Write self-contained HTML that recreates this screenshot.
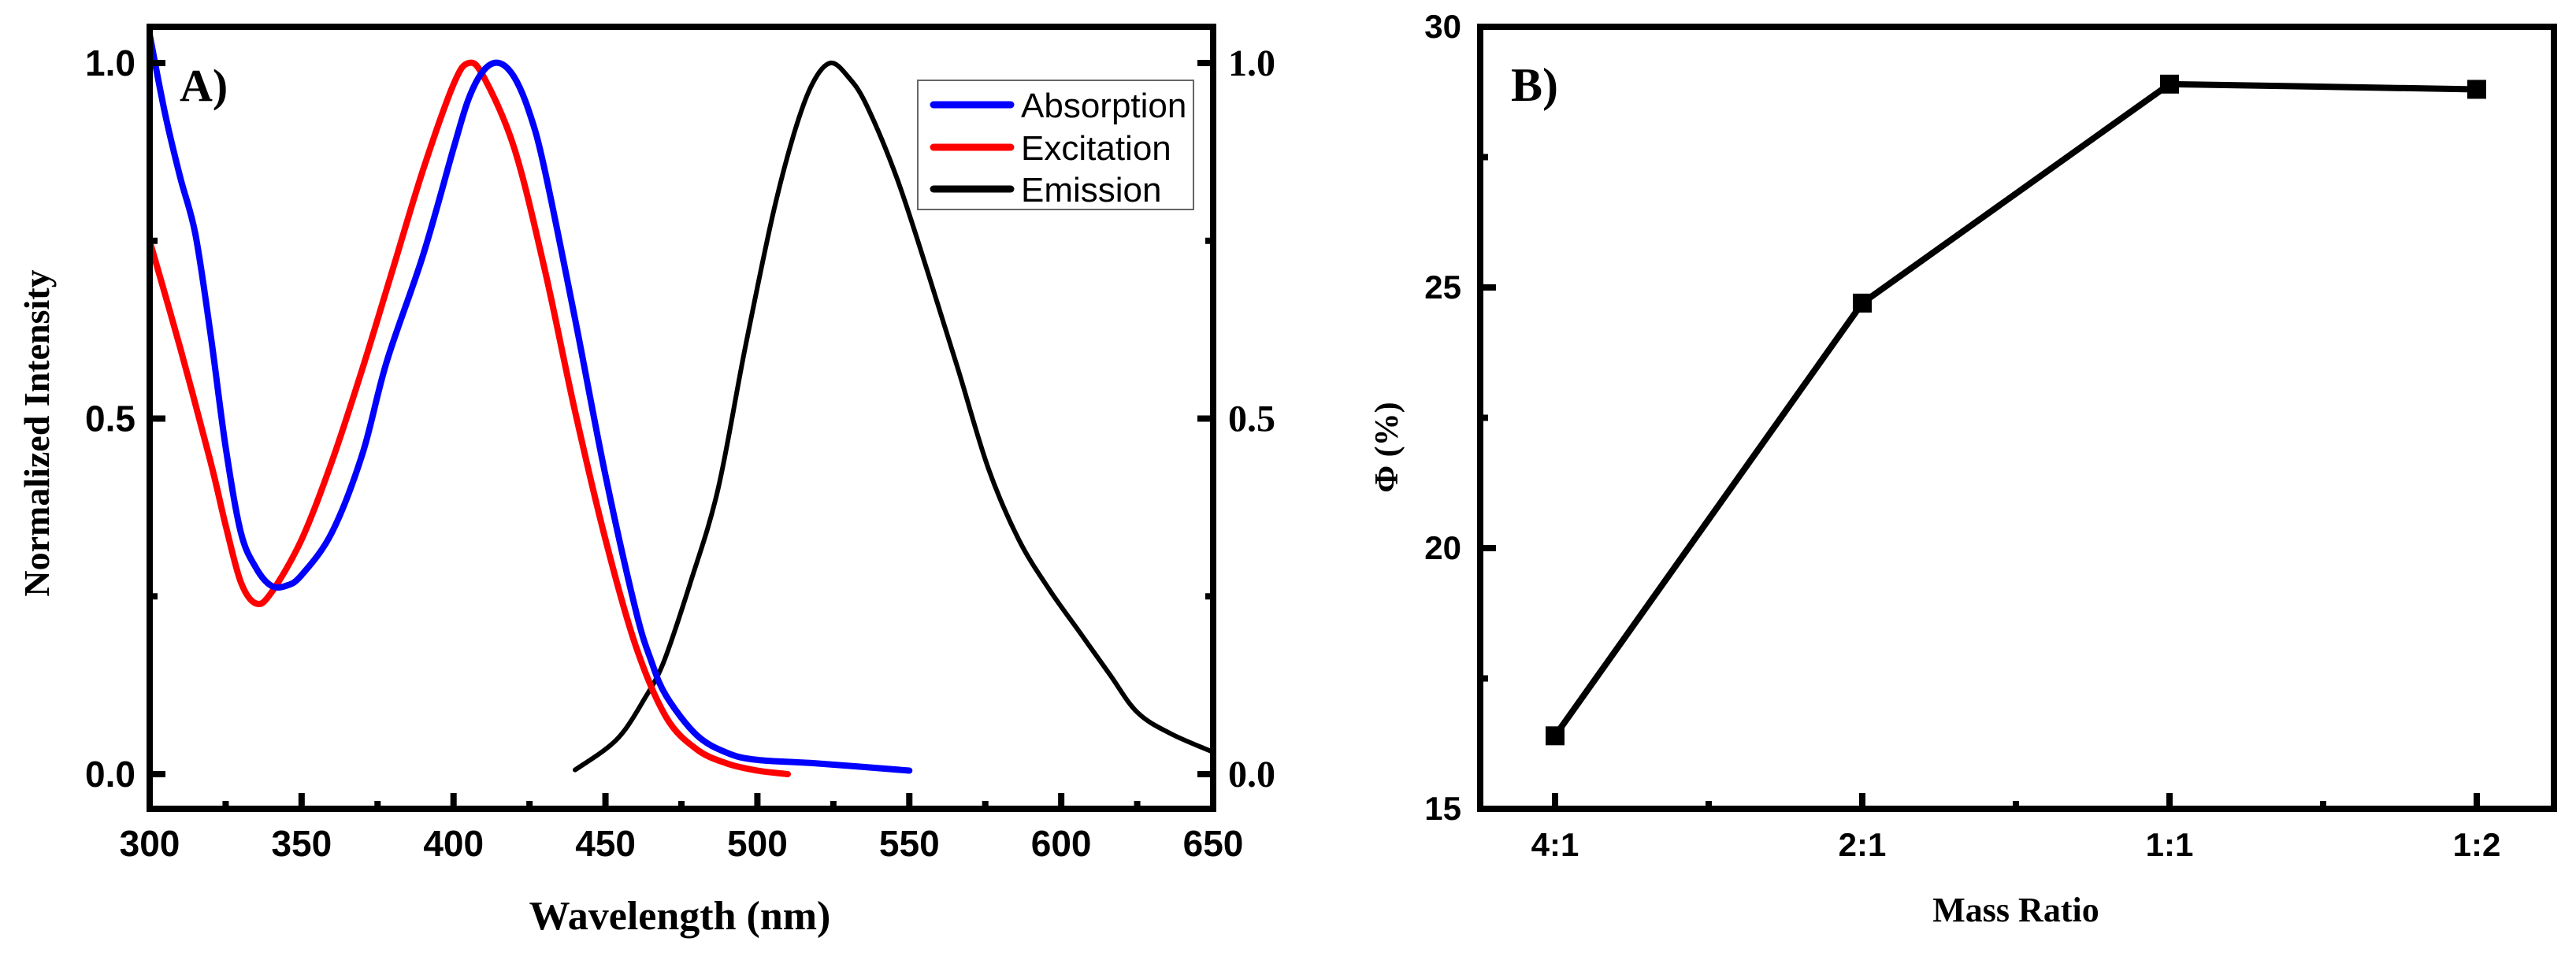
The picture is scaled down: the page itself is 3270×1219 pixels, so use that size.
<!DOCTYPE html>
<html><head><meta charset="utf-8"><style>
html,body{margin:0;padding:0;background:#fff;}
svg{display:block;}
.sans{font-family:"Liberation Sans",Arial,sans-serif;}
.serif{font-family:"Liberation Serif","Times New Roman",serif;}
</style></head><body>
<svg id="fig" width="3270" height="1219" viewBox="0 0 3270 1219" xmlns="http://www.w3.org/2000/svg">
<g id="panelA"></g>
<g id="panelB"></g>
</svg>
<script>
// ---- Panel A data ----
const absX = [300,305,310,315,320,325,330,335,340,345,350,360,370,378,390,400,405,410,415,420,425,430,440,450,460,465,470,480,490,500,520,550];
const absY = [1.04,0.93,0.84,0.76,0.62,0.46,0.34,0.29,0.265,0.265,0.28,0.34,0.45,0.58,0.73,0.88,0.95,0.99,1.0,0.98,0.93,0.85,0.64,0.42,0.23,0.16,0.11,0.055,0.03,0.02,0.015,0.005];
const excX = [300,310,320,325,330,335,340,350,360,370,380,390,400,405,410,420,430,440,450,460,470,480,490,500,510];
const excY = [0.75,0.6,0.44,0.35,0.27,0.24,0.255,0.33,0.44,0.57,0.71,0.85,0.97,1.0,0.98,0.88,0.71,0.51,0.33,0.18,0.08,0.035,0.015,0.005,0.0];
const emiX = [440,450,456,462,469,478,487,496,505,512,518,524,530,536,546,556,566,576,586,596,606,616,625,636,650];
const emiY = [0.006,0.035,0.06,0.1,0.156,0.27,0.40,0.6,0.785,0.9,0.97,1.0,0.98,0.94,0.837,0.707,0.57,0.43,0.33,0.26,0.2,0.14,0.087,0.057,0.031];
const aXTicks = [300,350,400,450,500,550,600,650];
const aYTicks = [0.0,0.5,1.0];
const aYLabels = ["0.0","0.5","1.0"];
// ---- Panel B data ----
const ratioCats = ["4:1","2:1","1:1","1:2"];
const phiVals = [16.4,24.7,28.9,28.8];
const bYTicks = [15,20,25,30];

const NS="http://www.w3.org/2000/svg";
function mk(parent,tag,attrs,text){const e=document.createElementNS(NS,tag);for(const k in attrs)e.setAttribute(k,attrs[k]);if(text!==undefined)e.textContent=text;parent.appendChild(e);return e;}

// Panel A axes
const aL=190,aR=1540,aT=34,aB=1027;
const ax=v=>aL+(v-300)*(aR-aL)/350;
const ay=v=>983-v*903;
const A=document.getElementById('panelA');

function smooth(xs,ys,fx,fy){
  const p=xs.map((x,i)=>[fx(x),fy(ys[i])]);
  let d="M"+p[0][0].toFixed(1)+","+p[0][1].toFixed(1);
  for(let i=0;i<p.length-1;i++){
    const p0=p[Math.max(0,i-1)],p1=p[i],p2=p[i+1],p3=p[Math.min(p.length-1,i+2)];
    const c1=[p1[0]+(p2[0]-p0[0])/6,p1[1]+(p2[1]-p0[1])/6];
    const c2=[p2[0]-(p3[0]-p1[0])/6,p2[1]-(p3[1]-p1[1])/6];
    d+="C"+c1.map(v=>v.toFixed(1)).join(",")+" "+c2.map(v=>v.toFixed(1)).join(",")+" "+p2.map(v=>v.toFixed(1)).join(",");
  }
  return d;
}

let s;
s=mk(A,'path',{d:smooth(emiX,emiY,ax,ay),fill:'none',stroke:'#000','stroke-width':6,'stroke-linejoin':'round','stroke-linecap':'round'});


s=mk(A,'path',{d:smooth(excX,excY,ax,ay),fill:'none',stroke:'#ff0000','stroke-width':8,'stroke-linejoin':'round','stroke-linecap':'round'});


s=mk(A,'path',{d:smooth(absX,absY,ax,ay),fill:'none',stroke:'#0000ff','stroke-width':8,'stroke-linejoin':'round','stroke-linecap':'round'});



s=mk(A,'rect',{x:aL,y:aT,width:aR-aL,height:aB-aT,fill:'none',stroke:'#000','stroke-width':8});



aXTicks.forEach((t,i)=>{
  const x=ax(t);
  const tk=mk(A,'line',{x1:x,x2:x,y1:aB,y2:aB-20,stroke:'#000','stroke-width':8});
  
  
  if(i<aXTicks.length-1){const xm=ax(t+25);const mt=mk(A,'line',{x1:xm,x2:xm,y1:aB,y2:aB-10,stroke:'#000','stroke-width':8});
  
  }
  const lb=mk(A,'text',{x:x,y:1087,'text-anchor':'middle','font-size':46,'font-weight':'bold',class:'sans'},String(t));
  
  
});
aYTicks.forEach((t,i)=>{
  const y=ay(t);
  const t1=mk(A,'line',{x1:aL,x2:aL+20,y1:y,y2:y,stroke:'#000','stroke-width':8});
  
  
  const t2=mk(A,'line',{x1:aR,x2:aR-20,y1:y,y2:y,stroke:'#000','stroke-width':8});
  
  
  if(i<aYTicks.length-1){const ym=ay(t+0.25);
   const m1=mk(A,'line',{x1:aL,x2:aL+10,y1:ym,y2:ym,stroke:'#000','stroke-width':8});
   
   
   const m2=mk(A,'line',{x1:aR,x2:aR-10,y1:ym,y2:ym,stroke:'#000','stroke-width':8});
   
   }
  const l1=mk(A,'text',{x:172,y:y+16,'text-anchor':'end','font-size':46,'font-weight':'bold',class:'sans'},aYLabels[i]);
  
  
  const l2=mk(A,'text',{x:1559,y:y+16,'text-anchor':'start','font-size':48,'font-weight':'bold',class:'serif'},aYLabels[i]);
  
  
});
s=mk(A,'text',{x:863,y:1180,'text-anchor':'middle','font-size':52,'font-weight':'bold',class:'serif'},'Wavelength (nm)');


s=mk(A,'text',{x:0,y:0,'text-anchor':'middle','font-size':46,'font-weight':'bold',class:'serif',transform:'translate(62,550) rotate(-90)'},'Normalized Intensity');


s=mk(A,'text',{x:228,y:128,'font-size':58,'font-weight':'bold',class:'serif'},'A)');



// legend
const lg=mk(A,'g',{});


mk(lg,'rect',{x:1165,y:102,width:350,height:164,fill:'#fff',stroke:'#666','stroke-width':2});
const legItems=[['Absorption','#0000ff',133],['Excitation','#ff0000',187],['Emission','#000',240]];
legItems.forEach(it=>{
  const ln=mk(lg,'line',{x1:1185,x2:1283,y1:it[2],y2:it[2],stroke:it[1],'stroke-width':9,'stroke-linecap':'round'});
  
  
  const tx=mk(lg,'text',{x:1296,y:it[2]+16,'font-size':44,class:'sans'},it[0]);
  
  
});

// Panel B
const B=document.getElementById('panelB');
const bL=1879,bR=3242,bT=34,bB=1027;
const bx=i=>1974+i*390;
const by=v=>bB-(v-15)*(bB-bT)/15;
s=mk(B,'rect',{x:bL,y:bT,width:bR-bL,height:bB-bT,fill:'none',stroke:'#000','stroke-width':8});


ratioCats.forEach((c,i)=>{
  const x=bx(i);
  const t=mk(B,'line',{x1:x,x2:x,y1:bB,y2:bB-20,stroke:'#000','stroke-width':8});
  
  
  if(i<ratioCats.length-1){const xm=(bx(i)+bx(i+1))/2;const m=mk(B,'line',{x1:xm,x2:xm,y1:bB,y2:bB-10,stroke:'#000','stroke-width':8});
  
  }
  const l=mk(B,'text',{x:x,y:1087,'text-anchor':'middle','font-size':42,'font-weight':'bold',class:'sans'},c);
  
  
});
bYTicks.forEach((v,i)=>{
  const y=by(v);
  const t=mk(B,'line',{x1:bL,x2:bL+20,y1:y,y2:y,stroke:'#000','stroke-width':8});
  
  
  if(i<bYTicks.length-1){const ym=by(v+2.5);const m=mk(B,'line',{x1:bL,x2:bL+10,y1:ym,y2:ym,stroke:'#000','stroke-width':8});
  
  }
  const l=mk(B,'text',{x:1855,y:y+14,'text-anchor':'end','font-size':42,'font-weight':'bold',class:'sans'},String(v));
  
  
});
s=mk(B,'polyline',{points:phiVals.map((v,i)=>bx(i)+','+by(v)).join(' '),fill:'none',stroke:'#000','stroke-width':8,'stroke-linejoin':'round'});


phiVals.forEach((v,i)=>{
  const r=mk(B,'rect',{x:bx(i)-12,y:by(v)-12,width:24,height:24,fill:'#000'});
  
  
});
s=mk(B,'text',{x:2559,y:1170,'text-anchor':'middle','font-size':44,'font-weight':'bold',class:'serif'},'Mass Ratio');


s=mk(B,'text',{x:0,y:0,'text-anchor':'middle','font-size':42,'font-weight':'bold',class:'serif',transform:'translate(1774,568) rotate(-90)'},'Φ (%)');


s=mk(B,'text',{x:1918,y:128,'font-size':60,'font-weight':'bold',class:'serif'},'B)');


</script>
</body></html>
